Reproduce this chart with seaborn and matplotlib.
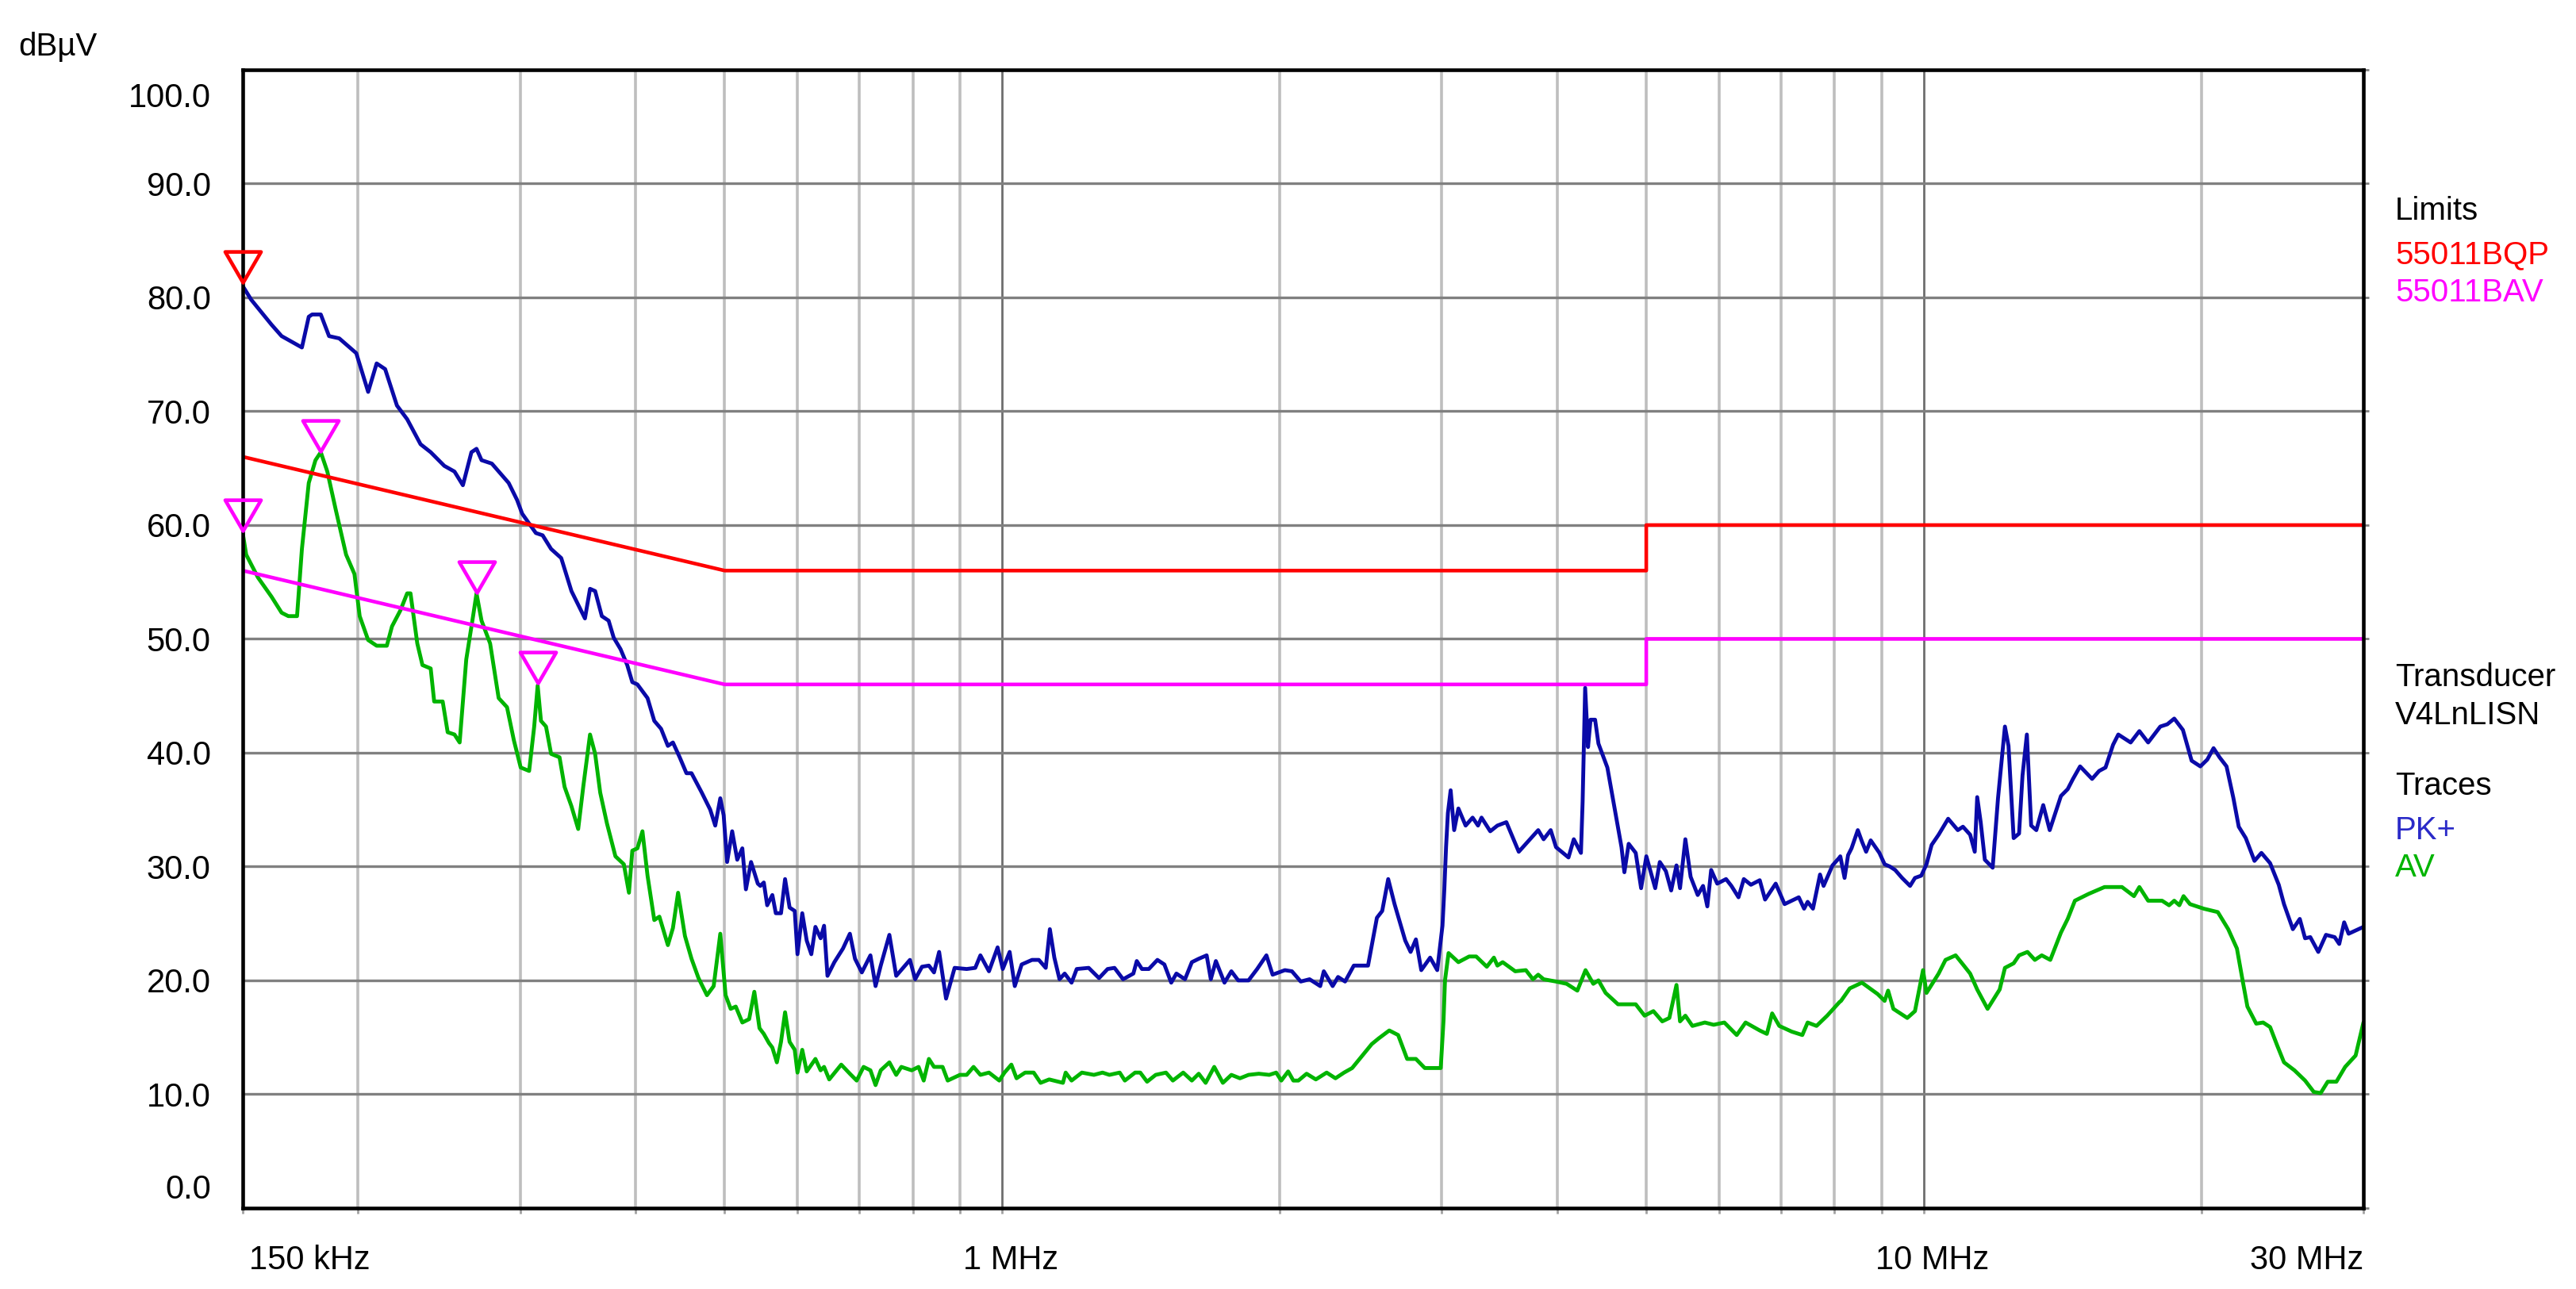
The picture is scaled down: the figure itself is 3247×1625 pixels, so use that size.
import matplotlib
matplotlib.use('Agg')
import matplotlib.pyplot as plt
import seaborn as sns
from matplotlib.path import Path
from matplotlib.ticker import NullFormatter
from matplotlib.transforms import ScaledTranslation

# frequencies in MHz, levels in dBuV
pk_freq = [0.150, 0.1532, 0.1612, 0.1653, 0.1739, 0.1769, 0.1784, 0.1823, 0.1861, 0.1909,
           0.1992, 0.2052, 0.2096, 0.2141, 0.2205, 0.2262, 0.2339, 0.2399, 0.2482, 0.2546,
           0.2600, 0.2656, 0.2690, 0.2724, 0.2795, 0.2915, 0.2977, 0.3015, 0.3120, 0.3173,
           0.3241, 0.3324, 0.3410, 0.3527, 0.3572, 0.3618, 0.3679, 0.3742, 0.3790, 0.3855,
           0.3920, 0.3970, 0.4021, 0.4124, 0.4194, 0.4266, 0.4339, 0.4394, 0.4469, 0.4545,
           0.4603, 0.4722, 0.4823, 0.4884, 0.4946, 0.4988, 0.5031, 0.5095, 0.5160, 0.5226,
           0.5273, 0.5341, 0.5432,
           0.5467, 0.5514, 0.5561, 0.5633, 0.5682, 0.5756, 0.5815, 0.5881, 0.5957, 0.5998,
           0.6070, 0.6138, 0.6209, 0.6273, 0.6355, 0.6410, 0.6465, 0.6577, 0.6720, 0.6837,
           0.6925, 0.7044, 0.7197, 0.7290, 0.7385, 0.7546, 0.7676, 0.7809, 0.7944, 0.8048,
           0.8187, 0.8329, 0.8436, 0.8545, 0.8694, 0.8882, 0.9154, 0.9352, 0.9473, 0.9678,
           0.9889, 1.0017, 1.0191, 1.0323, 1.0502, 1.0777, 1.0962, 1.1153, 1.1268, 1.1395,
           1.1543, 1.1693, 1.1896, 1.2050, 1.2416, 1.2741, 1.3017, 1.3243, 1.3530, 1.3882,
           1.4001, 1.4183, 1.4429, 1.4742, 1.5000, 1.5259, 1.5458, 1.5793, 1.6066, 1.6345,
           1.6672, 1.6846, 1.7060, 1.7430, 1.7733, 1.8040, 1.8511, 1.8913, 1.9356, 1.9658,
           2.027, 2.063, 2.109, 2.156, 2.214, 2.234, 2.284, 2.315, 2.356, 2.408,
           2.495, 2.551, 2.585, 2.624, 2.666, 2.738, 2.775, 2.812, 2.850, 2.914,
           2.966, 3.005, 3.019, 3.032, 3.046, 3.067, 3.094, 3.127, 3.184, 3.240,
           3.284, 3.313, 3.386, 3.447, 3.525, 3.636, 3.817, 3.869, 3.938, 3.991,
           4.117, 4.172, 4.247, 4.265, 4.292, 4.323, 4.350, 4.400, 4.437, 4.537,
           4.618, 4.700, 4.734, 4.785, 4.870, 4.936, 5.001, 5.113, 5.172, 5.251,
           5.321, 5.392, 5.440, 5.513, 5.586, 5.686, 5.762, 5.824, 5.880, 5.970,
           6.103, 6.185, 6.296, 6.380, 6.494, 6.639, 6.728, 6.909, 7.064, 7.319,
           7.417, 7.483, 7.583, 7.718, 7.787, 7.962, 8.104,
           8.119, 8.206, 8.278, 8.350, 8.482, 8.570, 8.660, 8.760, 8.952, 9.070,
           9.190, 9.311, 9.474, 9.665, 9.784, 9.939, 10.07, 10.20, 10.38, 10.63,
           10.89, 11.03, 11.23, 11.36, 11.43, 11.53, 11.65, 11.88, 12.04, 12.25,
           12.36, 12.52, 12.69, 12.80, 12.94, 13.08, 13.25, 13.48, 13.70, 14.09,
           14.33, 14.52, 14.78, 15.23, 15.50, 15.75, 16.05, 16.26, 16.77, 17.14,
           17.52, 18.06, 18.38, 18.70, 19.11, 19.53, 19.96, 20.31, 20.63, 20.94,
           21.31, 21.68, 21.97, 22.36, 22.85, 23.25, 23.76, 24.28, 24.60, 25.15,
           25.59, 25.93, 26.27, 26.80, 27.32, 27.92, 28.24, 28.59, 28.91, 30.0]
pk_level = [81.0, 79.8, 77.6, 76.6, 75.6, 78.3, 78.5, 78.5, 76.6, 76.4,
            75.1, 71.7, 74.2, 73.7, 70.5, 69.3, 67.1, 66.4, 65.2, 64.7,
            63.5, 66.4, 66.7, 65.7, 65.4, 63.7, 62.2, 61.0, 59.3, 59.1,
            57.9, 57.1, 54.2, 51.8, 54.4, 54.2, 52.0, 51.6, 50.1, 49.1,
            47.7, 46.2, 46.0, 44.8, 42.8, 42.1, 40.6, 40.9, 39.6, 38.2,
            38.2, 36.5, 35.0, 33.6, 36.0, 34.5, 30.4, 33.1, 30.6, 31.6,
            28.0, 30.4, 28.5,
            28.3, 28.6, 26.6, 27.5, 25.9, 25.9, 28.9, 26.4, 26.1, 22.3,
            25.9, 23.5, 22.3, 24.7, 23.7, 24.8, 20.4, 21.6, 22.8, 24.1,
            21.9, 20.7, 22.2, 19.5, 21.3, 24.0, 20.4, 21.1, 21.8, 20.1,
            21.2, 21.3, 20.7, 22.5, 18.4, 21.1, 21.0, 21.1, 22.2, 20.8,
            22.9, 21.0, 22.5, 19.5, 21.4, 21.8, 21.8, 21.1, 24.5, 22.0,
            20.1, 20.6, 19.8, 21.0, 21.1, 20.2, 21.0, 21.1, 20.1, 20.6,
            21.7, 21.0, 21.0, 21.8, 21.4, 19.8, 20.6, 20.1, 21.6, 21.9,
            22.2, 20.1, 21.7, 19.8, 20.8, 20.0, 20.0, 21.0, 22.2, 20.5,
            20.9, 20.8, 19.9, 20.1, 19.5, 20.8, 19.5, 20.3, 19.9, 21.3,
            21.3, 25.5, 26.1, 28.9, 26.7, 23.5, 22.5, 23.6, 20.9, 22.0,
            20.9, 24.8, 28.0, 31.7, 34.7, 36.7, 33.2, 35.1, 33.6, 34.3,
            33.6, 34.3, 33.1, 33.6, 33.9, 31.3, 33.2, 32.4, 33.2, 31.7,
            30.8, 32.4, 31.2, 35.7, 45.7, 40.5, 42.9, 42.9, 40.8, 38.7,
            35.2, 31.7, 29.5, 32.0, 31.2, 28.1, 30.9, 28.1, 30.4, 29.6,
            27.9, 30.1, 28.1, 32.4, 29.1, 27.5, 28.3, 26.5, 29.7, 28.5,
            28.9, 28.3, 27.3, 28.9, 28.4, 28.8, 27.1, 28.5, 26.7, 27.3,
            26.3, 26.9, 26.3, 29.3, 28.3, 30.1, 30.8,
            30.9, 29.0, 31.0, 31.6, 33.2, 32.2, 31.3, 32.3, 31.2, 30.2,
            30.0, 29.7, 29.0, 28.3, 29.0, 29.2, 30.2, 31.9, 32.8, 34.2,
            33.2, 33.5, 32.8, 31.3, 36.1, 33.9, 30.6, 29.9, 36.0, 42.3,
            40.6, 32.5, 32.9, 38.0, 41.6, 33.6, 33.2, 35.4, 33.2, 36.2,
            36.8, 37.7, 38.8, 37.7, 38.4, 38.7, 40.7, 41.6, 40.9, 41.9,
            40.9, 42.3, 42.5, 43.0, 42.0, 39.3, 38.8, 39.4, 40.4, 39.6,
            38.8, 36.0, 33.5, 32.5, 30.5, 31.2, 30.3, 28.4, 26.7, 24.5,
            25.4, 23.7, 23.8, 22.5, 24.0, 23.8, 23.2, 25.1, 24.1, 24.7]

av_freq = [0.150, 0.1513, 0.1558, 0.1612, 0.1653, 0.1681, 0.1718, 0.1739, 0.1769, 0.1799,
           0.1823, 0.1853, 0.1893, 0.1942, 0.1983, 0.2009, 0.2052, 0.2096, 0.2150, 0.2178,
           0.2224, 0.2262, 0.2281, 0.2320, 0.2350, 0.2399, 0.2420, 0.2472, 0.2503, 0.2546,
           0.2579, 0.2622, 0.2667, 0.2690, 0.2724, 0.2783, 0.2843, 0.2903, 0.2953, 0.3004,
           0.3068, 0.3107, 0.3134, 0.3160, 0.3200, 0.3241, 0.3310, 0.3352, 0.3410, 0.3468,
           0.3512, 0.3572, 0.3618, 0.3664, 0.3726, 0.3806, 0.3887, 0.3937, 0.3970, 0.4021,
           0.4072, 0.4124, 0.4194, 0.4248, 0.4339, 0.4394, 0.4451, 0.4528, 0.4603, 0.4684,
           0.4784, 0.4865, 0.4946, 0.5012, 0.5076, 0.5141, 0.5226, 0.5316, 0.5385, 0.5455,
           0.5514, 0.5585, 0.5633, 0.5697, 0.5756, 0.5815, 0.5881, 0.5957, 0.5998, 0.6070,
           0.6138, 0.6273, 0.6355, 0.6410, 0.6493, 0.6691, 0.6837, 0.6954, 0.7075, 0.7197,
           0.7290, 0.7385, 0.7546, 0.7676, 0.7775, 0.7979, 0.8117, 0.8222, 0.8329, 0.8436,
           0.8619, 0.8730, 0.9000, 0.9154, 0.9312, 0.9473, 0.9678, 0.9931, 1.0060, 1.0235,
           1.0368, 1.0593, 1.0822, 1.1010, 1.1249, 1.1642, 1.1722, 1.1896, 1.2206, 1.2579,
           1.2852, 1.3075, 1.3416, 1.3590, 1.3942, 1.4123, 1.4366, 1.4678, 1.5061, 1.5322,
           1.5723, 1.6066, 1.6345, 1.6630, 1.6990, 1.7360, 1.7733, 1.8118, 1.8511, 1.8992,
           1.9495, 1.9834, 2.0090, 2.0437, 2.0702, 2.0966, 2.14, 2.19, 2.25, 2.30, 2.35,
           2.398, 2.518, 2.562, 2.631, 2.690, 2.751, 2.812, 2.875, 2.940, 2.992,
           3.013, 3.024, 3.051, 3.127, 3.212, 3.269, 3.357, 3.417, 3.447, 3.493,
           3.604, 3.701, 3.767, 3.817, 3.869, 3.991, 4.098, 4.209, 4.296, 4.380,
           4.437, 4.517, 4.659, 4.870, 4.979, 5.090, 5.204, 5.297, 5.392, 5.440,
           5.513, 5.611, 5.788, 5.917, 6.077, 6.268, 6.408, 6.639, 6.758, 6.848,
           6.971, 7.191, 7.384, 7.483, 7.651, 7.857, 8.104,
           8.134, 8.314, 8.570, 8.913, 9.070, 9.149, 9.270, 9.598, 9.784, 9.983,
           10.07, 10.38, 10.56, 10.83, 11.03, 11.23, 11.43, 11.73, 12.09, 12.25,
           12.52, 12.69, 12.96, 13.20, 13.43, 13.72, 14.09, 14.33, 14.59, 15.10,
           15.71, 16.41, 16.91, 17.14, 17.52, 18.14, 18.46, 18.70, 18.94, 19.14,
           19.45, 20.13, 20.85, 21.40, 21.87, 22.16, 22.45, 22.95, 23.35, 23.76,
           24.18, 24.60, 25.25, 25.93, 26.50, 26.96, 27.44, 28.04, 28.66, 29.42, 30.0]
av_level = [59.3, 57.4, 55.4, 53.7, 52.3, 52.0, 52.0, 57.9, 63.7, 65.7,
            66.4, 64.7, 61.3, 57.4, 55.7, 52.0, 49.9, 49.4, 49.4, 51.1,
            52.5, 54.0, 54.0, 49.6, 47.7, 47.4, 44.5, 44.5, 41.8, 41.6,
            40.9, 48.2, 52.0, 54.0, 51.6, 49.6, 44.8, 44.0, 41.1, 38.7,
            38.4, 42.3, 45.9, 42.8, 42.3, 39.9, 39.6, 37.0, 35.3, 33.3,
            37.0, 41.6, 39.9, 36.5, 33.8, 30.9, 30.2, 27.7, 31.4, 31.6,
            33.1, 29.2, 25.3, 25.6, 23.1, 24.6, 27.7, 23.9, 21.9, 20.2,
            18.7, 19.5, 24.1, 18.7, 17.5, 17.7, 16.3, 16.6, 19.0, 15.8,
            15.3, 14.5, 14.1, 12.8, 14.6, 17.2, 14.6, 13.9, 11.9, 13.9,
            12.0, 13.1, 12.1, 12.4, 11.3, 12.6, 11.8, 11.2, 12.4, 12.1,
            10.8, 12.1, 12.8, 11.7, 12.4, 12.1, 12.4, 11.2, 13.1, 12.4,
            12.4, 11.2, 11.7, 11.7, 12.4, 11.7, 11.9, 11.2, 11.9, 12.6,
            11.4, 11.9, 11.9, 11.0, 11.3, 11.0, 11.9, 11.2, 11.9, 11.7,
            11.9, 11.7, 11.9, 11.2, 11.9, 11.9, 11.1, 11.7, 11.9, 11.2,
            11.9, 11.2, 11.8, 11.0, 12.4, 11.0, 11.7, 11.4, 11.7, 11.8,
            11.7, 11.9, 11.2, 12.0, 11.2, 11.2, 11.8, 11.3, 11.9, 11.4, 11.9,
            12.3, 14.4, 14.9, 15.6, 15.2, 13.1, 13.1, 12.3, 12.3, 12.3,
            16.5, 20.0, 22.4, 21.6, 22.1, 22.1, 21.2, 22.0, 21.3, 21.6,
            20.8, 20.9, 20.1, 20.5, 20.1, 19.9, 19.7, 19.1, 20.9, 19.7,
            20.0, 18.9, 17.9, 17.9, 16.9, 17.3, 16.4, 16.7, 19.6, 16.4,
            16.9, 16.0, 16.3, 16.1, 16.3, 15.2, 16.3, 15.6, 15.3, 17.1,
            16.0, 15.5, 15.2, 16.3, 16.0, 16.9, 18.1,
            18.2, 19.3, 19.8, 18.8, 18.2, 19.1, 17.5, 16.7, 17.3, 20.9,
            18.9, 20.6, 21.8, 22.2, 21.4, 20.6, 19.2, 17.5, 19.2, 21.1,
            21.5, 22.2, 22.5, 21.8, 22.2, 21.8, 24.2, 25.4, 27.0, 27.6,
            28.2, 28.2, 27.4, 28.2, 27.0, 27.0, 26.6, 27.0, 26.6, 27.4,
            26.7, 26.3, 26.0, 24.5, 22.8, 20.2, 17.7, 16.2, 16.3, 15.9,
            14.3, 12.8, 12.1, 11.2, 10.2, 10.1, 11.1, 11.1, 12.4, 13.4, 16.3]

# EN 55011 class B limit lines
limit_freq = [0.15, 0.5, 5.0, 5.0, 30.0]
qp_limit = [66.0, 56.0, 56.0, 60.0, 60.0]
av_limit = [56.0, 46.0, 46.0, 50.0, 50.0]

# peak markers
qp_mark_freq = [0.150]
qp_mark_level = [81.3]
av_mark_freq = [0.150, 0.1823, 0.2690, 0.3134]
av_mark_level = [59.5, 66.5, 54.1, 46.1]

x_major = [0.15, 1.0, 10.0, 30.0]
x_major_labels = ['150 kHz', '1 MHz', '10 MHz', '30 MHz']
x_minor = [0.2, 0.3, 0.4, 0.5, 0.6, 0.7, 0.8, 0.9, 2, 3, 4, 5, 6, 7, 8, 9, 20]
y_ticks = list(range(0, 101, 10))

blue = '#0A0AA8'
green = '#00B400'
red = '#FF0000'
magenta = '#FF00FF'

sns.set_theme(style='white')
plt.rcParams['font.family'] = ['Liberation Sans', 'DejaVu Sans']
plt.rcParams['font.size'] = 30

fig = plt.figure(figsize=(32.48, 16.25), dpi=100)
ax = fig.add_axes([0.0942, 0.0628, 0.8230, 0.8831])
ax.set_xscale('log')

# triangle with its tip at the data point
tri = Path([(-0.58, 1.0), (0.58, 1.0), (0.0, 0.0), (-0.58, 1.0)],
           [Path.MOVETO, Path.LINETO, Path.LINETO, Path.CLOSEPOLY])

sns.lineplot(x=pk_freq, y=pk_level, ax=ax, color=blue, linewidth=3.5, estimator=None, sort=False, zorder=3)
sns.lineplot(x=av_freq, y=av_level, ax=ax, color=green, linewidth=3.5, estimator=None, sort=False, zorder=3)
sns.lineplot(x=limit_freq, y=qp_limit, ax=ax, color=red, linewidth=3.3, estimator=None, sort=False, zorder=4)
sns.lineplot(x=limit_freq, y=av_limit, ax=ax, color=magenta, linewidth=3.3, estimator=None, sort=False, zorder=4)

ax.plot(qp_mark_freq, qp_mark_level, ls='none', marker=tri, ms=56, mfc='none',
        mec=red, mew=3.3, clip_on=False, zorder=6)
ax.plot(av_mark_freq, av_mark_level, ls='none', marker=tri, ms=56, mfc='none',
        mec=magenta, mew=3.3, clip_on=False, zorder=6)

ax.set_xlim(0.15, 30)
ax.set_ylim(0, 100)
ax.set_xlabel('')
ax.set_ylabel('')

ax.set_xticks(x_major)
ax.set_xticklabels(x_major_labels)
ax.set_xticks(x_minor, minor=True)
ax.xaxis.set_minor_formatter(NullFormatter())
ax.set_yticks(y_ticks)
ax.set_yticklabels([f'{v:.1f}' for v in y_ticks])

ax.set_axisbelow(True)
ax.grid(True, which='major', axis='x', color='#6E6E6E', lw=2.0)
ax.grid(True, which='minor', axis='x', color='#BEBEBE', lw=2.6)
ax.grid(True, which='major', axis='y', color='#808080', lw=2.4)

ax.tick_params(axis='x', which='both', bottom=True, top=False, direction='out',
               length=5, width=2, color='#A0A0A0', pad=28, labelsize=30, labelcolor='black')
ax.tick_params(axis='y', which='major', left=False, right=True, direction='out',
               length=5, width=2, color='#808080', pad=24, labelsize=30, labelcolor='black')

for side in ['left', 'right', 'top', 'bottom']:
    ax.spines[side].set_visible(True)
    ax.spines[side].set_color('black')
    ax.spines[side].set_linewidth(3.3)
    ax.spines[side].set_zorder(5)

# first and last frequency labels sit inside the axis span
xl = ax.get_xticklabels()
xl[0].set_horizontalalignment('left')
xl[0].set_transform(xl[0].get_transform() + ScaledTranslation(6 / 72, 0, fig.dpi_scale_trans))
xl[-1].set_horizontalalignment('right')
xl[1].set_transform(xl[1].get_transform() + ScaledTranslation(8 / 72, 0, fig.dpi_scale_trans))
xl[2].set_transform(xl[2].get_transform() + ScaledTranslation(8 / 72, 0, fig.dpi_scale_trans))

# 0.0 and 100.0 are pulled inside the plot height
yl = ax.get_yticklabels()
yl[0].set_transform(yl[0].get_transform() + ScaledTranslation(0, 20 / 72, fig.dpi_scale_trans))
yl[-1].set_transform(yl[-1].get_transform() + ScaledTranslation(0, -23 / 72, fig.dpi_scale_trans))

fig.text(0.0071, 0.9569, 'dBµV', fontsize=29, va='baseline', ha='left', color='black')

fig.text(0.9295, 0.8295, 'Limits', fontsize=29, va='baseline', color='black')
fig.text(0.9295, 0.7957, '55011BQP', fontsize=29, va='baseline', color=red)
fig.text(0.9295, 0.7662, '55011BAV', fontsize=29, va='baseline', color=magenta)
fig.text(0.9295, 0.4677, 'Transducer', fontsize=29, va='baseline', color='black')
fig.text(0.9295, 0.4382, 'V4LnLISN', fontsize=29, va='baseline', color='black')
fig.text(0.9295, 0.3834, 'Traces', fontsize=29, va='baseline', color='black')
fig.text(0.9295, 0.3489, 'PK+', fontsize=29, va='baseline', color='#2A2AC8')
fig.text(0.9295, 0.3200, 'AV', fontsize=29, va='baseline', color=green)

fig.savefig('out.png', dpi=100, facecolor='white')
